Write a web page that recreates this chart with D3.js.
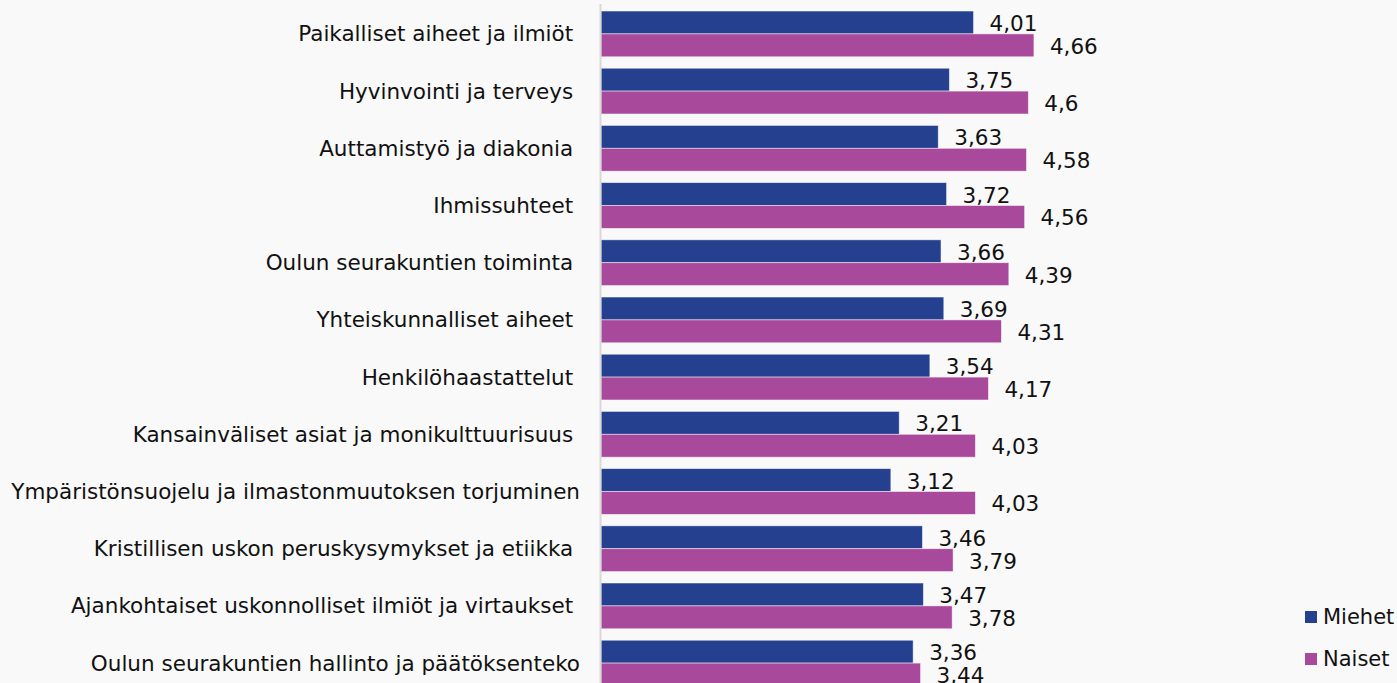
<!DOCTYPE html>
<html>
<head>
<meta charset="utf-8">
<script src="https://cdn.jsdelivr.net/npm/d3@7"></script>
<style>
  html, body { margin: 0; padding: 0; background: #f9f9f9; }
  svg { display: block; font-family: "DejaVu Sans", Verdana, sans-serif; }
  text { white-space: pre; }
</style>
</head>
<body>
<script>
// aiheet ja keskiarvot (Miehet / Naiset)
var aiheet = [
    "Paikalliset aiheet ja ilmiöt ",
    "Hyvinvointi ja terveys ",
    "Auttamistyö ja diakonia ",
    "Ihmissuhteet ",
    "Oulun seurakuntien toiminta ",
    "Yhteiskunnalliset aiheet ",
    "Henkilöhaastattelut ",
    "Kansainväliset asiat ja monikulttuurisuus ",
    "Ympäristönsuojelu ja ilmastonmuutoksen torjuminen",
    "Kristillisen uskon peruskysymykset ja etiikka ",
    "Ajankohtaiset uskonnolliset ilmiöt ja virtaukset ",
    "Oulun seurakuntien hallinto ja päätöksenteko"
];
var miehet = [4.01, 3.75, 3.63, 3.72, 3.66, 3.69, 3.54, 3.21, 3.12, 3.46, 3.47, 3.36];
var naiset = [4.66, 4.6, 4.58, 4.56, 4.39, 4.31, 4.17, 4.03, 4.03, 3.79, 3.78, 3.44];
var sarjat = ["Miehet", "Naiset"];
var varit = ["#25408f", "#a8499b"];

function graficar() {
    var width = 1397;
    var height = 683;
    var x0 = 601;

    var svg = d3.select("body")
        .append("svg")
        .attr("width", width)
        .attr("height", height);

    var x = d3.scaleLinear()
        .domain([0, 5])
        .range([x0, x0 + 5 * 92.9]);

    var y = d3.scaleBand()
        .domain(aiheet)
        .range([5.3, 5.3 + 12 * 57.2])
        .paddingInner(0.2)
        .paddingOuter(0.1);

    var ySarja = d3.scaleBand()
        .domain(sarjat)
        .range([0, y.bandwidth()]);

    var color = d3.scaleOrdinal()
        .domain(sarjat)
        .range(varit);

    var rivit = aiheet.map(function (a, i) {
        return { aihe: a, arvot: [
            { sarja: "Miehet", arvo: miehet[i] },
            { sarja: "Naiset", arvo: naiset[i] }
        ] };
    });

    var fmt = function (v) { return String(v).replace(".", ","); };

    var g = svg.selectAll("g.rivi")
        .data(rivit)
        .enter()
        .append("g")
        .attr("class", "rivi")
        .attr("transform", function (d) { return "translate(0," + y(d.aihe) + ")"; });

    g.selectAll("rect")
        .data(function (d) { return d.arvot; })
        .enter()
        .append("rect")
        .attr("x", x(0))
        .attr("y", function (d) { return ySarja(d.sarja); })
        .attr("width", function (d) { return x(d.arvo) - x(0); })
        .attr("height", ySarja.bandwidth())
        .attr("fill", function (d) { return color(d.sarja); })
        .attr("stroke", "#ffffff")
        .attr("stroke-opacity", 0.6)
        .attr("stroke-width", 0.8);

    g.selectAll("text.arvo")
        .data(function (d) { return d.arvot; })
        .enter()
        .append("text")
        .attr("class", "arvo")
        .attr("x", function (d) { return x(d.arvo) + 16; })
        .attr("y", function (d) { return ySarja(d.sarja) + ySarja.bandwidth() / 2 + 1; })
        .attr("dominant-baseline", "central")
        .attr("font-size", "21.5px")
        .attr("fill", "#111")
        .text(function (d) { return fmt(d.arvo); });

    // kategoriat
    svg.selectAll("text.aihe")
        .data(aiheet)
        .enter()
        .append("text")
        .attr("class", "aihe")
        .attr("x", x0 - 21)
        .attr("y", function (d) { return y(d) + y.bandwidth() / 2; })
        .attr("text-anchor", "end")
        .attr("dominant-baseline", "central")
        .attr("font-size", "21.5px")
        .attr("fill", "#111")
        .text(function (d) { return d; });

    // pystyakseli
    svg.append("line")
        .attr("x1", x0 - 0.5)
        .attr("x2", x0 - 0.5)
        .attr("y1", 4)
        .attr("y2", height)
        .attr("stroke", "#d9d9d9")
        .attr("stroke-width", 2);

    // selite
    var leg = svg.selectAll("g.selite")
        .data(sarjat)
        .enter()
        .append("g")
        .attr("class", "selite")
        .attr("transform", function (d, i) { return "translate(1305," + (611 + i * 42) + ")"; });

    leg.append("rect")
        .attr("width", 12)
        .attr("height", 12)
        .attr("fill", function (d) { return color(d); });

    leg.append("text")
        .attr("x", 18)
        .attr("y", 6)
        .attr("dominant-baseline", "central")
        .attr("font-size", "21px")
        .attr("fill", "#111")
        .text(function (d) { return d; });
}

graficar();
</script>
</body>
</html>
